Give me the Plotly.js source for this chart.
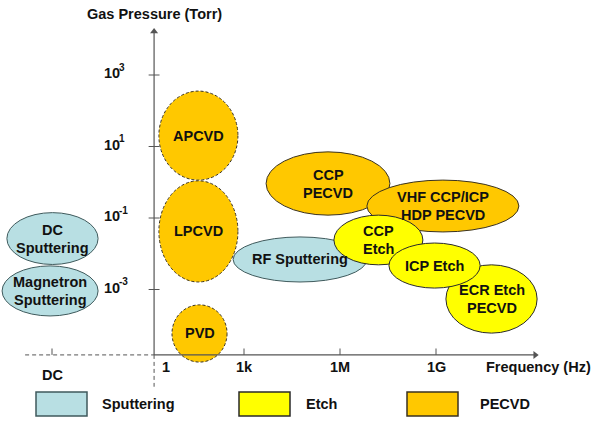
<!DOCTYPE html>
<html>
<head>
<meta charset="utf-8">
<script src="https://cdn.plot.ly/plotly-3.0.1.min.js"></script>
<style>html,body{margin:0;padding:0;background:#fff;}#chart{width:609px;height:423px;}</style>
</head>
<body>
<div id="chart"></div>
<script>
// ---- Data (log10 exponents of frequency [Hz] and gas pressure [Torr]) ----
const processes = ['DC<br>Sputtering','Magnetron<br>Sputtering','RF Sputtering','APCVD','LPCVD','PVD',
                   'CCP<br>PECVD','VHF CCP/ICP<br>HDP PECVD','ECR Etch<br>PECVD','CCP<br>Etch','ICP Etch'];
const processType = ['Sputtering','Sputtering','Sputtering','PECVD','PECVD','PECVD',
                     'PECVD','PECVD','Etch','Etch','Etch'];
const freqMin  = [-4.41, -4.56, 2.66, 0.34, 0.34, 0.75, 3.69, 6.84, 9.31, 5.81, 7.53];
const freqMax  = [-1.56, -1.56, 6.84, 2.81, 2.81, 2.47, 7.56, 11.59, 12.16, 8.59, 10.38];
const presMin  = [-2.30, -3.74, -2.79, 0.06, -2.79, -5.03, -0.92, -1.39, -4.22, -2.31, -2.96];
const presMax  = [-0.85, -2.34, -1.53, 2.55, 0.04, -3.43, 0.85, 0.06, -2.31, -0.92, -1.70];
const dashedOutline = [false,false,false,true,true,true,false,false,false,false,false];

const categories = ['Sputtering','Etch','PECVD'];
const xTickVals = [-3, 0, 3, 6, 9];
const xTickText = ['DC','1','1k','1M','1G'];
const yTickVals = [3, 1, -1, -3];
const yTickBase = ['10','10','10','10'];
const yTickExp  = ['3','1','-1','-3'];

// ---- Styles ----
const fills   = {Sputtering:'#b8dfe3', Etch:'#ffff00', PECVD:'#ffc800'};
const strokes = {Sputtering:'#3f5a5c', Etch:'#2a2a2a', PECVD:'#3a3220'};
const FONT = 'Liberation Sans, Arial, Helvetica, sans-serif';
const FS = 14.5;
const AX = '#555555';
const xOrigin = 0.19, yOrigin = -4.83, yTop = 4.22, xEnd = 12.1;
const txtFont = {family:FONT, size:FS, color:'#111', weight:'bold'};
const supFont = {family:FONT, size:10, color:'#111', weight:'bold'};

const shapes = [];
const annotations = [];

// ellipses
processes.forEach((p, i) => {
  const t = processType[i];
  shapes.push({type:'circle', xref:'x', yref:'y',
    x0:freqMin[i], x1:freqMax[i], y0:presMin[i], y1:presMax[i],
    fillcolor:fills[t], opacity:1, layer:'above',
    line:{color:strokes[t], width:1, dash: dashedOutline[i] ? '3px,2px' : 'solid'}});
});
// labels (one annotation per line)
processes.forEach((p, i) => {
  const lines = p.split('<br>');
  const cx = (freqMin[i]+freqMax[i])/2, cy = (presMin[i]+presMax[i])/2;
  lines.forEach((ln, k) => {
    annotations.push({xref:'x', yref:'y', x:cx, y:cy, yshift:(lines.length-1)*9 - k*18,
      text:ln, showarrow:false, xanchor:'center', yanchor:'middle', font:txtFont});
  });
});

// axes lines
shapes.push({type:'line', xref:'x', yref:'y', x0:xOrigin, x1:xOrigin, y0:yOrigin, y1:yTop,
  line:{color:AX, width:1.2}});
shapes.push({type:'line', xref:'x', yref:'y', x0:xOrigin, x1:xEnd, y0:yOrigin, y1:yOrigin,
  line:{color:AX, width:1.2}});
shapes.push({type:'line', xref:'x', yref:'y', x0:-3.84, x1:xOrigin, y0:yOrigin, y1:yOrigin,
  line:{color:AX, width:1, dash:'4px,3px'}});
shapes.push({type:'line', xref:'x', yref:'y', x0:xOrigin, x1:xOrigin, y0:yOrigin, y1:-5.72,
  line:{color:AX, width:1, dash:'4px,3px'}});

// y ticks and labels (base + superscript exponent)
const yLabelX = -0.8125;
yTickVals.forEach((v, i) => {
  shapes.push({type:'line', xref:'x', yref:'y', x0:xOrigin-0.17, x1:xOrigin+0.17, y0:v, y1:v,
    line:{color:AX, width:1}});
  annotations.push({xref:'x', yref:'y', x:yLabelX, y:v, yshift:2, text:yTickBase[i], showarrow:false,
    xanchor:'right', yanchor:'middle', font:txtFont});
  annotations.push({xref:'x', yref:'y', x:yLabelX, y:v, yshift:8, xshift:-5, text:yTickExp[i], showarrow:false,
    xanchor:'left', yanchor:'middle', font:supFont});
});
// x ticks and labels
xTickVals.forEach((v, i) => {
  if (v !== 0) {
    shapes.push({type:'line', xref:'x', yref:'y', x0:v, x1:v, y0:yOrigin, y1:yOrigin+0.18,
      line:{color:AX, width:1}});
  }
  const isDC = xTickText[i] === 'DC';
  annotations.push({xref:'x', yref:'y', x: v === 0 ? xOrigin : v, y:yOrigin, yshift: isDC ? -20 : -12,
    xshift: v === 0 ? 6 : 0, xanchor: v === 0 ? 'left' : 'center', yanchor:'middle',
    text:xTickText[i], showarrow:false, font:txtFont});
});

// axis titles
annotations.push({xref:'paper', yref:'paper', x:154/609, y:1-14/423, text:'Gas Pressure (Torr)',
  showarrow:false, xanchor:'center', yanchor:'middle', font:txtFont});
annotations.push({xref:'paper', yref:'paper', x:593/609, y:1-367/423, text:'Frequency (Hz)',
  showarrow:false, xanchor:'right', yanchor:'middle', font:txtFont});

// legend
const legBoxX = [36, 239, 407];
const legTextX = [100, 304, 478];
categories.forEach((c, i) => {
  shapes.push({type:'rect', xref:'paper', yref:'paper',
    x0:legBoxX[i]/609, x1:(legBoxX[i]+51)/609, y0:1-416/423, y1:1-392/423,
    fillcolor:fills[c], line:{color:strokes[c], width:1.5}});
  annotations.push({xref:'paper', yref:'paper', x:legTextX[i]/609, y:1-404/423, text:c,
    showarrow:false, xanchor:'left', yanchor:'middle', font:txtFont});
});

// arrowheads at the axis ends
const arrowTrace = {x:[xOrigin, xEnd], y:[yTop, yOrigin], type:'scatter', mode:'markers',
  marker:{symbol:['triangle-up','triangle-right'], size:7, color:AX, line:{width:0}},
  hoverinfo:'skip', cliponaxis:false};

const layout = {
  width:609, height:423,
  margin:{l:0, r:0, t:0, b:0, pad:0},
  paper_bgcolor:'#ffffff', plot_bgcolor:'#ffffff',
  showlegend:false,
  xaxis:{range:[-148/32, 461/32], visible:false, fixedrange:true},
  yaxis:{range:[(182.25-423)/35.75, 182.25/35.75], visible:false, fixedrange:true},
  shapes:shapes, annotations:annotations
};
Plotly.newPlot('chart', [arrowTrace], layout, {displayModeBar:false, staticPlot:true});
</script>
</body>
</html>
